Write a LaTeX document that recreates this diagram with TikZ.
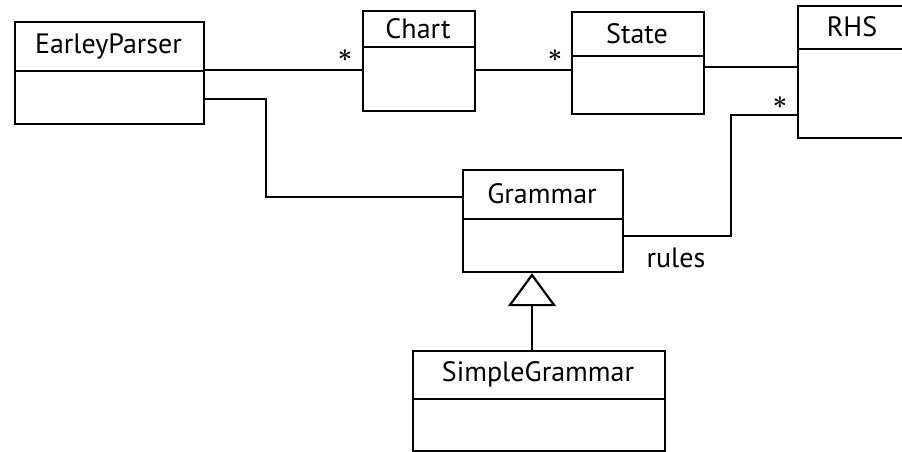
\documentclass[tikz,border=0pt]{standalone}
\usepackage{fontspec}
\setmainfont{PT Sans}
\usetikzlibrary{arrows.meta}

\begin{document}
\begin{tikzpicture}[x=1pt,y=-1pt]
    % Define block styles
    \tikzstyle{classbox} = [rectangle, draw=black, line width=2.2pt, anchor=north west, inner sep=0pt]
    \tikzstyle{classname} = [font=\fontsize{28}{32}\selectfont, inner sep=0pt]
    \tikzstyle{divider} = [line width=2.2pt]
    \tikzstyle{assoc} = [line width=2.2pt]
    \tikzstyle{inherit} = [line width=2.2pt, -{Triangle[open, length=33pt, width=48pt]}]
    \tikzstyle{mult} = [font=\fontsize{34}{36}\selectfont\boldmath, inner sep=0pt]
    \tikzstyle{role} = [font=\fontsize{28}{32}\selectfont, inner sep=0pt]

    \useasboundingbox (0,0) rectangle (902,452);
    \clip (0,0) rectangle (902,452);

    % Draw nodes
    \node (parser) [classbox, minimum width=189pt, minimum height=102pt] at (14,21) {};
    \node (chart) [classbox, minimum width=112pt, minimum height=100pt] at (362,10) {};
    \node (state) [classbox, minimum width=132pt, minimum height=102pt] at (571,11) {};
    \node (rhs) [classbox, minimum width=110pt, minimum height=132pt] at (797,5) {};
    \node (grammar) [classbox, minimum width=160pt, minimum height=102pt] at (462,169) {};
    \node (sgrammar) [classbox, minimum width=252pt, minimum height=100pt] at (412,350) {};

    % Class names
    \node (parser-name) [classname] at (108.5,46) {EarleyParser};
    \node (chart-name) [classname] at (418,28.5) {Chart};
    \node (state-name) [classname] at (637,33.5) {State};
    \node (rhs-name) [classname] at (852,27) {RHS};
    \node (grammar-name) [classname] at (542,194) {Grammar};
    \node (sgrammar-name) [classname] at (538,374.5) {SimpleGrammar};

    % Draw dividers
    \draw [divider] (14,71) -- (203,71);
    \draw [divider] (362,47) -- (474,47);
    \draw [divider] (571,56) -- (703,56);
    \draw [divider] (797,49) -- (907,49);
    \draw [divider] (462,219) -- (622,219);
    \draw [divider] (412,399) -- (664,399);

    % Draw edges
    \draw [assoc] (parser.east |- 0,70) -- (chart.west |- 0,70);
    \draw [assoc] (parser.east |- 0,99) -- (266,99) |- (grammar.west |- 0,197);
    \draw [assoc] (chart.east |- 0,70) -- (state.west |- 0,70);
    \draw [assoc] (state.east |- 0,67) -- (rhs.west |- 0,67);
    \draw [assoc] (grammar.east |- 0,236) -- (731,236) |- (rhs.west |- 0,115);
    \draw [inherit] (sgrammar.north -| 532,0) -- (grammar.south -| 532,0);

    % Multiplicities
    \node (mult-chart) [mult] at (345,56) {$\ast$};
    \node (mult-state) [mult] at (555,56) {$\ast$};
    \node (mult-rhs) [mult] at (780,103) {$\ast$};
    \node (rules) [role] at (676,258) {rules};

\end{tikzpicture}
\end{document}
